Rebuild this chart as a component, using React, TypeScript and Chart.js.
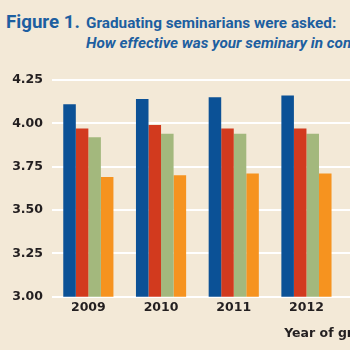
import React, { useEffect, useRef } from "react";
import { Chart, registerables } from "chart.js";

Chart.register(...registerables);

// ---- data ----
const years = ["2009", "2010", "2011", "2012", ""];
const seriesNames = ["Series 1", "Series 2", "Series 3", "Series 4"];
const blueValues = [4.11, 4.14, 4.15, 4.16];
const redValues = [3.97, 3.99, 3.97, 3.97];
const greenValues = [3.92, 3.94, 3.94, 3.94];
const orangeValues = [3.69, 3.7, 3.71, 3.71];
const yMin = 3.0;
const yMax = 4.25;
const yStep = 0.25;

const titleLead = "Figure 1.";
const titleLine1 = "Graduating seminarians were asked:";
const titleLine2 = "How effective was your seminary in contributing";
const xAxisTitle = "Year of graduation";

const BG = "#f3e9d7";
const TITLE_BLUE = "#1d5fa0";
const TEXT = "#231f20";
const colors = ["#0b5196", "#d23a1e", "#a3b87d", "#f6931f"];

export default function App() {
  const ref = useRef<HTMLCanvasElement | null>(null);

  useEffect(() => {
    const canvas = ref.current;
    if (!canvas) return;
    const tickFont = { family: "DejaVu Sans", size: 12.5, weight: "bold" as const };
    const chart = new Chart(canvas, {
      type: "bar",
      data: {
        labels: years,
        datasets: [blueValues, redValues, greenValues, orangeValues].map((vals, i) => ({
          label: seriesNames[i],
          data: vals,
          backgroundColor: colors[i],
          borderWidth: 0,
          barPercentage: 1.0,
          categoryPercentage: 0.69,
        })),
      },
      options: {
        animation: false,
        responsive: false,
        devicePixelRatio: 1,
        layout: { padding: { top: 20, right: 14.5, left: 0, bottom: 0 } },
        plugins: {
          legend: { display: false },
          tooltip: { enabled: false },
          title: { display: false },
        },
        scales: {
          y: {
            min: yMin,
            max: yMax,
            ticks: {
              stepSize: yStep,
              color: TEXT,
              font: tickFont,
              padding: 9,
              callback: (v: any) => Number(v).toFixed(2),
            },
            grid: { color: "#ffffff", lineWidth: 2, drawTicks: false },
            border: { display: false },
            afterFit: (s: any) => {
              s.width = 52;
            },
          },
          x: {
            grid: { display: false, drawTicks: false },
            border: { display: false },
            ticks: { color: TEXT, font: tickFont, padding: 4 },
            title: {
              display: true,
              text: xAxisTitle,
              align: "end",
              color: TEXT,
              font: { family: "DejaVu Sans", size: 12.5, weight: "bold" },
              padding: { top: 0, bottom: 9 },
            },
            afterFit: (s: any) => {
              s.height = 53.3;
            },
          },
        },
      },
    });
    return () => chart.destroy();
  }, []);

  return (
    <div
      style={{
        position: "absolute",
        left: 0,
        top: 0,
        width: 350,
        height: 350,
        overflow: "hidden",
        background: BG,
      }}
    >
      <div
        style={{
          position: "absolute",
          left: 6,
          top: 11,
          whiteSpace: "nowrap",
          fontFamily: "Roboto, sans-serif",
          fontWeight: "bold",
          fontSize: 18.7,
          lineHeight: "22px",
          color: TITLE_BLUE,
        }}
      >
        {titleLead}
      </div>
      <div
        style={{
          position: "absolute",
          left: 86,
          top: 13,
          whiteSpace: "nowrap",
          fontFamily: "Roboto, sans-serif",
          fontWeight: "bold",
          fontSize: 15.3,
          lineHeight: "20px",
          color: TITLE_BLUE,
        }}
      >
        <div>{titleLine1}</div>
        <div style={{ fontStyle: "italic" }}>{titleLine2}</div>
      </div>
      <canvas
        ref={ref}
        width={430}
        height={290}
        style={{ position: "absolute", left: 0, top: 60, width: 430, height: 290 }}
      />
    </div>
  );
}
